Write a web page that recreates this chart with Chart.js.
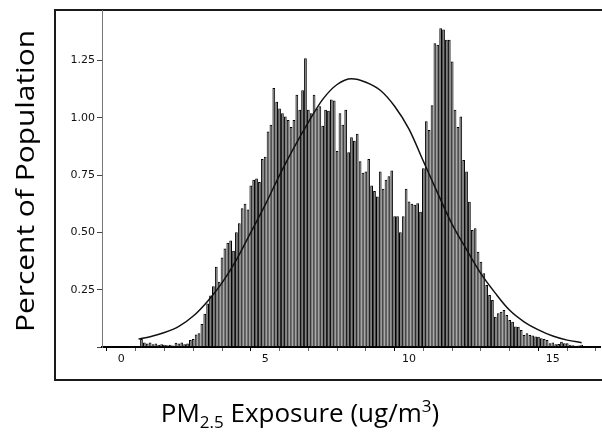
<!DOCTYPE html>
<html>
<head>
<meta charset="utf-8">
<script src="https://cdn.jsdelivr.net/npm/chart.js@4"></script>
<style>
  body { margin: 0; background: #fff; }
  #wrap { position: relative; width: 602px; height: 441px; overflow: hidden; }
  #frame { position: absolute; left: 54px; top: 9px; width: 620px; height: 368px; border: 2px solid #1a1a1a; }
  #c { position: absolute; left: 0; top: 0; }
  .title { position: absolute; font-family: 'Open Sans', sans-serif; color: #000; white-space: nowrap; }
  #ytitle { left: 24px; top: 181px; font-size: 26px; transform: translate(-50%, -50%) rotate(-90deg) scaleX(1.15); }
  #xtitle { left: 300px; top: 412px; font-size: 26px; transform: translate(-50%, -50%); }
  #xtitle sub, #xtitle sup { font-size: 17px; line-height: 0; }
</style>
</head>
<body>
<div id="wrap">
  <div id="frame"></div>
  <canvas id="c" width="602" height="441"></canvas>
  <div class="title" id="ytitle">Percent of Population</div>
  <div class="title" id="xtitle">PM<sub>2.5</sub> Exposure (ug/m<sup>3</sup>)</div>
</div>
<script>
// Histogram: bins of 0.1 ug/m3, first bin centred at 0.7
const binStart = 0.7;
const binWidth = 0.1;
const binPercent = [
    0.035, 0.02, 0.015, 0.02, 0.012, 0.015, 0.01, 0.012, 0.01, 0.008,
    0.01, 0.006, 0.018, 0.015, 0.02, 0.012, 0.015, 0.03, 0.035, 0.055,
    0.06, 0.1, 0.145, 0.19, 0.225, 0.265, 0.35, 0.285, 0.39, 0.43,
    0.455, 0.465, 0.42, 0.5, 0.54, 0.605, 0.625, 0.6, 0.705, 0.73,
    0.735, 0.72, 0.82, 0.83, 0.94, 0.97, 1.13, 1.07, 1.04, 1.02,
    1.005, 0.99, 0.96, 0.99, 1.1, 1.035, 1.12, 1.26, 1.035, 1.02,
    1.1, 1.04, 1.05, 0.965, 1.035, 1.03, 1.08, 1.075, 0.855, 1.02,
    0.97, 1.035, 0.85, 0.915, 0.9, 0.93, 0.81, 0.76, 0.765, 0.82,
    0.705, 0.68, 0.656, 0.765, 0.69, 0.73, 0.745, 0.77, 0.57, 0.57,
    0.5, 0.57, 0.69, 0.635, 0.625, 0.62, 0.627, 0.59, 0.78, 0.985,
    0.947, 1.055, 1.325, 1.318, 1.39, 1.385, 1.34, 1.34, 1.245, 1.035,
    0.96, 1.005, 0.816, 0.765, 0.634, 0.51, 0.518, 0.416, 0.372, 0.322,
    0.27, 0.227, 0.205, 0.132, 0.147, 0.154, 0.161, 0.14, 0.118, 0.11,
    0.089, 0.088, 0.074, 0.052, 0.06, 0.052, 0.05, 0.046, 0.045, 0.038,
    0.035, 0.03, 0.016, 0.02, 0.012, 0.013, 0.023, 0.016, 0.016, 0.01,
    0.008, 0.005, 0.006, 0.01
];

// fitted normal curve
const curveX = [0.6, 1, 1.5, 2, 2.5, 3, 3.5, 4, 4.5, 5, 5.5, 6, 6.5, 7, 7.5, 8,
    8.5, 9, 9.5, 10, 10.5, 11, 11.5, 12, 12.5, 13, 13.5, 14, 14.5, 15, 15.5, 16];
const curveY = [0.035, 0.045, 0.063, 0.09, 0.135, 0.2, 0.28, 0.38, 0.5, 0.62, 0.75, 0.87,
    0.98, 1.08, 1.145, 1.17, 1.155, 1.12, 1.05, 0.95, 0.81, 0.67, 0.535, 0.425, 0.32,
    0.235, 0.16, 0.11, 0.075, 0.048, 0.03, 0.019];

const xTicks = [0, 5, 10, 15];
const yTicks = [0.25, 0.5, 0.75, 1.0, 1.25];

const barData = binPercent.map((v, i) => ({ x: +(binStart + i * binWidth).toFixed(2), y: v }));
const curveData = curveX.map((x, i) => ({ x: x, y: curveY[i] }));

const ctx = document.getElementById('c').getContext('2d');
const chart = new Chart(ctx, {
    type: 'bar',
    data: {
        datasets: [
            {
                type: 'line',
                data: curveData,
                borderColor: '#111',
                borderWidth: 1.5,
                pointRadius: 0,
                cubicInterpolationMode: 'monotone',
                order: 0
            },
            {
                type: 'bar',
                data: barData,
                backgroundColor: '#6a6a6a',
                borderColor: '#000',
                borderWidth: 1,
                barPercentage: 0.95,
                categoryPercentage: 1,
                order: 1
            }
        ]
    },
    options: {
        responsive: false,
        animation: false,
        devicePixelRatio: 1,
        layout: { padding: { left: 55, top: 10, right: 2, bottom: 0 } },
        plugins: {
            legend: { display: false },
            tooltip: { enabled: false }
        },
        scales: {
            x: {
                type: 'linear',
                min: -0.163,
                max: 16.13,
                afterFit: (s) => { s.height = 94; },
                border: { color: '#000', width: 2 },
                grid: {
                    drawOnChartArea: false,
                    tickLength: 4,
                    tickColor: (c) => (c.tick && xTicks.includes(c.tick.value)) ? '#000' : '#666'
                },
                ticks: {
                    stepSize: 1,
                    includeBounds: false,
                    autoSkip: false,
                    maxRotation: 0,
                    padding: 2,
                    color: '#111',
                    font: { family: 'DejaVu Sans', size: 11 },
                    callback: (v) => xTicks.includes(v) ? String(v) : ''
                }
            },
            y: {
                min: 0,
                max: 1.47,
                afterFit: (s) => { s.width = 47; },
                border: { color: '#777', width: 1 },
                grid: { drawOnChartArea: false, tickLength: 5, tickColor: '#444' },
                ticks: {
                    stepSize: 0.25,
                    includeBounds: false,
                    padding: 2,
                    color: '#111',
                    font: { family: 'DejaVu Sans', size: 11 },
                    callback: (v) => yTicks.includes(v) ? v.toFixed(2) : ''
                }
            }
        }
    }
});
</script>
</body>
</html>
